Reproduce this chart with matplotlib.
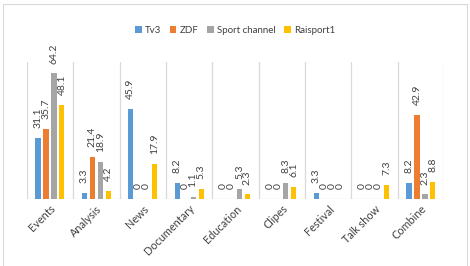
import numpy as np
import matplotlib.pyplot as plt
from matplotlib.patches import Rectangle

plt.rcParams['font.family'] = ['Lato', 'DejaVu Sans']

categories = ['Events', 'Analysis', 'News', 'Documentary', 'Education',
              'Clipes', 'Festival', 'Talk show', 'Combine']
tv3 = [31.1, 3.3, 45.9, 8.2, 0, 0, 3.3, 0, 8.2]
zdf = [35.7, 21.4, 0, 0, 0, 0, 0, 0, 42.9]
sport = [64.2, 18.9, 0, 1.1, 5.3, 8.3, 0, 0, 2.3]
raisport = [48.1, 4.2, 17.9, 5.3, 2.3, 6.1, 0, 7.3, 8.8]

series = [('Tv3', tv3, '#5B9BD5'), ('ZDF', zdf, '#ED7D31'),
          ('Sport channel', sport, '#A5A5A5'), ('Raisport1', raisport, '#FFC000')]

fig = plt.figure(figsize=(4.7, 2.66), dpi=100)
ax = fig.add_axes([0.057, 0.252, 0.888, 0.515])

x = np.arange(len(categories))
step = 0.172
width = 0.11
for i, (name, vals, col) in enumerate(series):
    pos = x + (i - 1.5) * step
    ax.bar(pos, vals, width=width, color=col, label=name, zorder=3)
    for px, v in zip(pos, vals):
        ax.annotate(f'{v:g}', (px, v), xytext=(0, 7), textcoords='offset points',
                    rotation=90, ha='center', va='bottom',
                    fontsize=7.5, color='#404040')

ax.set_xlim(-0.5, len(categories) - 0.5)
ax.set_ylim(0, 70)
for b in np.arange(-0.5, len(categories), 1.0):
    ax.axvline(b, color='#D9D9D9', lw=0.9, zorder=1)
ax.axhline(0, color='#D9D9D9', lw=0.9, zorder=2)
for s in ax.spines.values():
    s.set_visible(False)
ax.set_yticks([])
ax.set_xticks(x)
ax.set_xticklabels(categories, rotation=45, ha='right', rotation_mode='anchor',
                   fontsize=7.8, color='#404040')
ax.tick_params(axis='x', length=0, pad=3)

fig.legend(loc='center', bbox_to_anchor=(0.5, 0.885), ncol=4, frameon=False,
           fontsize=7, handlelength=0.7, handleheight=0.7, columnspacing=0.9,
           handletextpad=0.3, labelcolor='#404040')

fig.patches.append(Rectangle((3 / 470, -0.05), 464 / 470, 1 - 4 / 266 + 0.05,
                             transform=fig.transFigure, fill=False,
                             edgecolor='#D9D9D9', lw=0.8))

fig.savefig('out.png', dpi=100)
